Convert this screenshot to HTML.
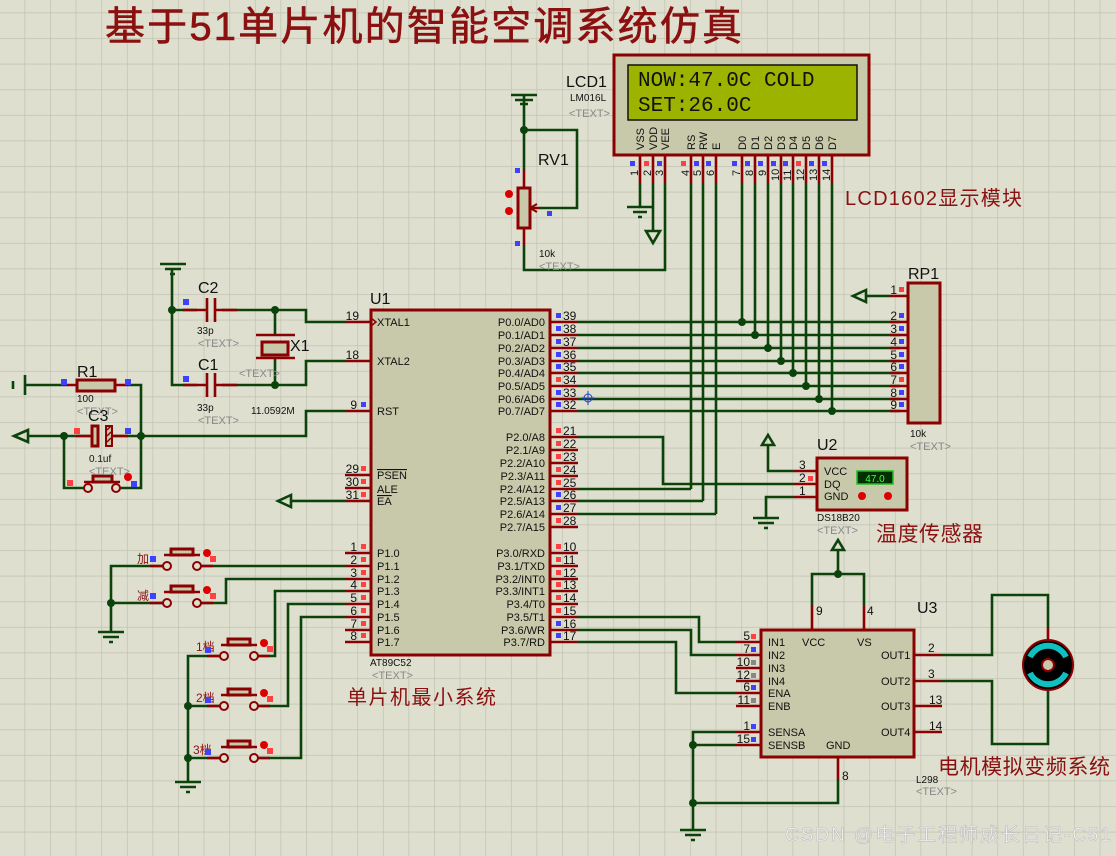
<!DOCTYPE html>
<html><head><meta charset="utf-8"><style>
html,body{margin:0;padding:0;background:#dfdfd0}
svg{display:block}
text{font-family:"Liberation Sans","Noto Sans CJK SC",sans-serif}
text.mono{font-family:"Liberation Mono","DejaVu Sans Mono",monospace}
.w{stroke:#0b430b;stroke-width:2.6;fill:none}
.p{stroke:#8b0000;stroke-width:2.6;fill:none}
.b{fill:#c8c8aa;stroke:#8b0000;stroke-width:3}
.t{font-size:11px;fill:#111}
.n{font-size:12px;fill:#111}
.g{font-size:11px;fill:#888}
.lab{font-size:16px;fill:#111}
.cn{fill:#8b1010;font-family:"Liberation Sans","Noto Sans CJK SC",sans-serif}
</style></head><body>
<svg width="1116" height="856" viewBox="0 0 1116 856" xmlns="http://www.w3.org/2000/svg">
<defs>
<pattern id="gr" x="24.5" y="12.5" width="25.6" height="25.6" patternUnits="userSpaceOnUse">
<path d="M0 0H25.6M0 0V25.6" stroke="#c2c2b2" stroke-width="1.4" fill="none"/>
</pattern>
</defs>
<rect width="1116" height="856" fill="#dfdfd0"/>
<rect width="1116" height="856" fill="url(#gr)"/>

<!-- title -->
<text x="105" y="40" font-size="40" class="cn" textLength="637" stroke="#8b1010" stroke-width="0.6">基于51单片机的智能空调系统仿真</text>

<!-- LCD -->
<rect x="614" y="55" width="255" height="100" class="b"/>
<rect x="628" y="65" width="229" height="55" fill="#9cb400" stroke="#111" stroke-width="1.5"/>
<text x="638" y="86" class="mono" font-size="21" fill="#111">NOW:47.0C COLD</text>
<text x="638" y="111" class="mono" font-size="21" fill="#111">SET:26.0C</text>
<text x="566" y="87" class="lab">LCD1</text>
<text x="570" y="101" font-size="10" fill="#111">LM016L</text>
<text x="569" y="117" class="g">&lt;TEXT&gt;</text>
<g font-size="11" fill="#111">
<text transform="translate(644,150) rotate(-90)">VSS</text>
<text transform="translate(657,150) rotate(-90)">VDD</text>
<text transform="translate(669,150) rotate(-90)">VEE</text>
<text transform="translate(695,150) rotate(-90)">RS</text>
<text transform="translate(707,150) rotate(-90)">RW</text>
<text transform="translate(720,150) rotate(-90)">E</text>
<text transform="translate(746,150) rotate(-90)">D0</text>
<text transform="translate(759,150) rotate(-90)">D1</text>
<text transform="translate(772,150) rotate(-90)">D2</text>
<text transform="translate(785,150) rotate(-90)">D3</text>
<text transform="translate(797,150) rotate(-90)">D4</text>
<text transform="translate(810,150) rotate(-90)">D5</text>
<text transform="translate(823,150) rotate(-90)">D6</text>
<text transform="translate(836,150) rotate(-90)">D7</text>
<text transform="translate(638,176) rotate(-90)">1</text>
<text transform="translate(651,176) rotate(-90)">2</text>
<text transform="translate(663,176) rotate(-90)">3</text>
<text transform="translate(689,176) rotate(-90)">4</text>
<text transform="translate(701,176) rotate(-90)">5</text>
<text transform="translate(714,176) rotate(-90)">6</text>
<text transform="translate(740,176) rotate(-90)">7</text>
<text transform="translate(753,176) rotate(-90)">8</text>
<text transform="translate(766,176) rotate(-90)">9</text>
<text transform="translate(779,181) rotate(-90)">10</text>
<text transform="translate(791,181) rotate(-90)">11</text>
<text transform="translate(804,181) rotate(-90)">12</text>
<text transform="translate(817,181) rotate(-90)">13</text>
<text transform="translate(830,181) rotate(-90)">14</text>
</g>
<path class="p" d="M640 156V183M653 156V183M665 156V183M691 156V183M703 156V183M716 156V183M742 156V183M755 156V183M768 156V183M781 156V183M793 156V183M806 156V183M819 156V183M832 156V183"/>
<g fill="#4040ff"><rect x="630" y="161" width="5" height="5"/><rect x="657" y="161" width="5" height="5"/><rect x="694" y="161" width="5" height="5"/><rect x="706" y="161" width="5" height="5"/><rect x="732" y="161" width="5" height="5"/><rect x="745" y="161" width="5" height="5"/><rect x="758" y="161" width="5" height="5"/><rect x="771" y="161" width="5" height="5"/><rect x="783" y="161" width="5" height="5"/><rect x="809" y="161" width="5" height="5"/><rect x="822" y="161" width="5" height="5"/></g>
<g fill="#ff4040"><rect x="644" y="161" width="5" height="5"/><rect x="681" y="161" width="5" height="5"/><rect x="796" y="161" width="5" height="5"/></g>
<text x="845" y="205" font-size="20" class="cn" textLength="177">LCD1602显示模块</text>

<!-- LCD wiring -->
<path class="w" d="M640 183V207M653 183V232M665 183V270H524V245"/>
<path class="w" d="M627 207H653M633 212H647M638 217H642" stroke-width="2"/>
<path class="w" d="M646 231H660L653 243Z"/>
<path class="w" d="M691 183V489M703 183V501M716 183V514"/>
<path class="w" d="M742 183V322M755 183V335M768 183V348M781 183V361M793 183V373M806 183V386M819 183V399M832 183V411"/>
<g fill="#0b430b"><circle cx="742" cy="322" r="4"/><circle cx="755" cy="335" r="4"/><circle cx="768" cy="348" r="4"/><circle cx="781" cy="361" r="4"/><circle cx="793" cy="373" r="4"/><circle cx="806" cy="386" r="4"/><circle cx="819" cy="399" r="4"/><circle cx="832" cy="411" r="4"/></g>

<!-- RV1 -->
<path class="w" d="M511 95H537M515 100H533M520 104H528" stroke-width="2"/>
<path class="w" d="M524 95V130H577V208H540"/>
<circle cx="524" cy="130" r="4" fill="#0b430b"/>
<path class="w" d="M524 130V170"/>
<path class="p" d="M524 170V188M524 228V245M540 208H532"/>
<path d="M537 204L530 208L537 212" fill="none" stroke="#8b0000" stroke-width="2"/>
<rect x="518" y="188" width="12" height="40" class="b" stroke-width="2"/>
<circle cx="509" cy="194" r="4" fill="#d00"/><circle cx="509" cy="211" r="4" fill="#d00"/>
<rect x="515" y="168" width="5" height="5" fill="#4040ff"/><rect x="547" y="211" width="5" height="5" fill="#4040ff"/><rect x="515" y="241" width="5" height="5" fill="#4040ff"/>
<text x="538" y="165" class="lab">RV1</text>
<text x="539" y="257" font-size="10" fill="#111">10k</text>
<text x="539" y="270" class="g">&lt;TEXT&gt;</text>

<!-- U1 -->
<rect x="371" y="310" width="179" height="345" class="b"/>
<text x="370" y="304" class="lab">U1</text>
<text x="370" y="666" font-size="10" fill="#111">AT89C52</text>
<text x="372" y="679" class="g">&lt;TEXT&gt;</text>
<path class="p" d="M345 322H371M345 361H371M345 411H371M345 475H371M345 488H371M345 501H371M345 553H371M345 566H371M345 579H371M345 591H371M345 604H371M345 617H371M345 630H371M345 642H371"/>
<path class="p" d="M550 322H578M550 335H578M550 348H578M550 361H578M550 373H578M550 386H578M550 399H578M550 411H578M550 437H578M550 450H578M550 463H578M550 476H578M550 489H578M550 501H578M550 514H578M550 527H578M550 553H578M550 566H578M550 579H578M550 591H578M550 604H578M550 617H578M550 630H578M550 642H578"/>
<path d="M371 318L376 322L371 326" fill="none" stroke="#8b0000" stroke-width="1.5"/>
<g class="t">
<text x="377" y="326">XTAL1</text><text x="377" y="365">XTAL2</text><text x="377" y="415">RST</text>
<text x="377" y="479" text-decoration="overline">PSEN</text><text x="377" y="493">ALE</text><text x="377" y="505" text-decoration="overline">EA</text>
<text x="377" y="557">P1.0</text><text x="377" y="570">P1.1</text><text x="377" y="583">P1.2</text><text x="377" y="595">P1.3</text><text x="377" y="608">P1.4</text><text x="377" y="621">P1.5</text><text x="377" y="634">P1.6</text><text x="377" y="646">P1.7</text>
</g>
<g class="t" text-anchor="end">
<text x="545" y="326">P0.0/AD0</text><text x="545" y="339">P0.1/AD1</text><text x="545" y="352">P0.2/AD2</text><text x="545" y="365">P0.3/AD3</text><text x="545" y="377">P0.4/AD4</text><text x="545" y="390">P0.5/AD5</text><text x="545" y="403">P0.6/AD6</text><text x="545" y="415">P0.7/AD7</text>
<text x="545" y="441">P2.0/A8</text><text x="545" y="454">P2.1/A9</text><text x="545" y="467">P2.2/A10</text><text x="545" y="480">P2.3/A11</text><text x="545" y="493">P2.4/A12</text><text x="545" y="505">P2.5/A13</text><text x="545" y="518">P2.6/A14</text><text x="545" y="531">P2.7/A15</text>
<text x="545" y="557">P3.0/RXD</text><text x="545" y="570">P3.1/TXD</text><text x="545" y="583">P3.2/INT0</text><text x="545" y="595">P3.3/INT1</text><text x="545" y="608">P3.4/T0</text><text x="545" y="621">P3.5/T1</text><text x="545" y="634">P3.6/WR</text><text x="545" y="646">P3.7/RD</text>
</g>
<g class="n" text-anchor="end">
<text x="359" y="320">19</text><text x="359" y="359">18</text><text x="357" y="409">9</text><text x="359" y="473">29</text><text x="359" y="486">30</text><text x="359" y="499">31</text>
<text x="357" y="551">1</text><text x="357" y="564">2</text><text x="357" y="577">3</text><text x="357" y="589">4</text><text x="357" y="602">5</text><text x="357" y="615">6</text><text x="357" y="628">7</text><text x="357" y="640">8</text>
</g>
<g class="n">
<text x="563" y="320">39</text><text x="563" y="333">38</text><text x="563" y="346">37</text><text x="563" y="359">36</text><text x="563" y="371">35</text><text x="563" y="384">34</text><text x="563" y="397">33</text><text x="563" y="409">32</text>
<text x="563" y="435">21</text><text x="563" y="448">22</text><text x="563" y="461">23</text><text x="563" y="474">24</text><text x="563" y="487">25</text><text x="563" y="499">26</text><text x="563" y="512">27</text><text x="563" y="525">28</text>
<text x="563" y="551">10</text><text x="563" y="564">11</text><text x="563" y="577">12</text><text x="563" y="589">13</text><text x="563" y="602">14</text><text x="563" y="615">15</text><text x="563" y="628">16</text><text x="563" y="640">17</text>
</g>
<g fill="#4040ff"><rect x="556" y="313" width="5" height="5"/><rect x="556" y="326" width="5" height="5"/><rect x="556" y="339" width="5" height="5"/><rect x="556" y="352" width="5" height="5"/><rect x="556" y="364" width="5" height="5"/><rect x="556" y="390" width="5" height="5"/><rect x="556" y="402" width="5" height="5"/><rect x="556" y="492" width="5" height="5"/><rect x="556" y="505" width="5" height="5"/><rect x="556" y="621" width="5" height="5"/><rect x="556" y="633" width="5" height="5"/><rect x="361" y="402" width="5" height="5"/></g>
<g fill="#ff4040"><rect x="556" y="377" width="5" height="5"/><rect x="556" y="428" width="5" height="5"/><rect x="556" y="441" width="5" height="5"/><rect x="556" y="454" width="5" height="5"/><rect x="556" y="467" width="5" height="5"/><rect x="556" y="480" width="5" height="5"/><rect x="556" y="518" width="5" height="5"/><rect x="556" y="544" width="5" height="5"/><rect x="556" y="557" width="5" height="5"/><rect x="556" y="570" width="5" height="5"/><rect x="556" y="582" width="5" height="5"/><rect x="556" y="595" width="5" height="5"/><rect x="556" y="608" width="5" height="5"/>
<rect x="361" y="466" width="5" height="5"/><rect x="361" y="479" width="5" height="5"/><rect x="361" y="492" width="5" height="5"/>
<rect x="361" y="544" width="5" height="5"/><rect x="361" y="557" width="5" height="5"/><rect x="361" y="570" width="5" height="5"/><rect x="361" y="582" width="5" height="5"/><rect x="361" y="595" width="5" height="5"/><rect x="361" y="608" width="5" height="5"/><rect x="361" y="621" width="5" height="5"/><rect x="361" y="633" width="5" height="5"/></g>
<text x="347" y="704" font-size="20" class="cn" textLength="149">单片机最小系统</text>

<!-- P0 to RP1 -->
<path class="w" d="M578 322H900M578 335H900M578 348H900M578 361H900M578 373H900M578 386H900M578 399H900M578 411H900"/>
<path d="M581 398H595M588 391V405" stroke="#2040c0" stroke-width="1"/><circle cx="588" cy="398" r="4" fill="none" stroke="#2040c0" stroke-width="1"/>
<!-- RP1 -->
<rect x="908" y="283" width="32" height="140" class="b"/>
<path class="p" d="M890 296H908M890 322H908M890 335H908M890 348H908M890 361H908M890 373H908M890 386H908M890 399H908M890 411H908"/>
<path class="w" d="M865 296H890"/><path class="w" d="M866 290L853 296L866 302Z"/>
<g class="n" text-anchor="end"><text x="897" y="294">1</text><text x="897" y="320">2</text><text x="897" y="333">3</text><text x="897" y="346">4</text><text x="897" y="359">5</text><text x="897" y="371">6</text><text x="897" y="384">7</text><text x="897" y="397">8</text><text x="897" y="409">9</text></g>
<g fill="#4040ff"><rect x="899" y="313" width="5" height="5"/><rect x="899" y="326" width="5" height="5"/><rect x="899" y="339" width="5" height="5"/><rect x="899" y="352" width="5" height="5"/><rect x="899" y="364" width="5" height="5"/><rect x="899" y="390" width="5" height="5"/><rect x="899" y="402" width="5" height="5"/></g>
<g fill="#ff4040"><rect x="899" y="287" width="5" height="5"/><rect x="899" y="377" width="5" height="5"/></g>
<text x="908" y="279" class="lab">RP1</text>
<text x="910" y="437" font-size="10" fill="#111">10k</text>
<text x="910" y="450" class="g">&lt;TEXT&gt;</text>

<!-- P2 wiring -->
<path class="w" d="M578 437H663V484H793M578 489H691M578 501H703M578 514H716"/>

<!-- U2 -->
<rect x="817" y="458" width="90" height="52" class="b"/>
<rect x="857" y="471" width="36" height="13" fill="#003000" stroke="#20c020" stroke-width="1.5"/>
<text x="875" y="482" font-size="10" fill="#40ff40" text-anchor="middle">47.0</text>
<circle cx="862" cy="496" r="4" fill="#d00"/><circle cx="888" cy="496" r="4" fill="#d00"/>
<g class="t"><text x="824" y="475">VCC</text><text x="824" y="488">DQ</text><text x="824" y="500">GND</text></g>
<path class="p" d="M793 471H817M793 484H817M793 497H817"/>
<g class="n"><text x="799" y="469">3</text><text x="799" y="482">2</text><text x="799" y="495">1</text></g>
<rect x="808" y="476" width="5" height="5" fill="#ff4040"/>
<path class="w" d="M793 471H768V445M793 497H766V518"/>
<path class="w" d="M762 445H774L768 435Z"/>
<path class="w" d="M753 518H779M758 523H774M764 528H768" stroke-width="2"/>
<text x="817" y="450" class="lab">U2</text>
<text x="817" y="521" font-size="10" fill="#111">DS18B20</text>
<text x="817" y="534" class="g">&lt;TEXT&gt;</text>
<text x="876" y="541" font-size="21" class="cn" textLength="107">温度传感器</text>

<!-- U3 -->
<rect x="761" y="630" width="153" height="127" class="b"/>
<path class="p" d="M812 605V630M864 605V630M736 642H761M736 655H761M736 668H761M736 681H761M736 693H761M736 706H761M736 732H761M736 745H761M914 655H942M914 681H942M914 706H942M914 732H942M838 757V780"/>
<path class="w" d="M838 550V574M812 605V574H864V605"/>
<circle cx="838" cy="574" r="4" fill="#0b430b"/>
<path class="w" d="M832 550H844L838 540Z"/>
<g class="t"><text x="768" y="646">IN1</text><text x="768" y="659">IN2</text><text x="768" y="672">IN3</text><text x="768" y="685">IN4</text><text x="768" y="697">ENA</text><text x="768" y="710">ENB</text><text x="768" y="736">SENSA</text><text x="768" y="749">SENSB</text>
<text x="802" y="646">VCC</text><text x="857" y="646">VS</text><text x="826" y="749">GND</text>
<text x="881" y="659">OUT1</text><text x="881" y="685">OUT2</text><text x="881" y="710">OUT3</text><text x="881" y="736">OUT4</text></g>
<g class="n"><text x="816" y="615">9</text><text x="867" y="615">4</text><text x="842" y="780">8</text>
<text x="928" y="652">2</text><text x="928" y="678">3</text><text x="929" y="704">13</text><text x="929" y="730">14</text></g>
<g class="n" text-anchor="end"><text x="750" y="640">5</text><text x="750" y="653">7</text><text x="750" y="666">10</text><text x="750" y="679">12</text><text x="750" y="691">6</text><text x="750" y="704">11</text><text x="750" y="730">1</text><text x="750" y="743">15</text></g>
<rect x="751" y="634" width="5" height="5" fill="#ff4040"/>
<g fill="#4040ff"><rect x="751" y="647" width="5" height="5"/><rect x="751" y="685" width="5" height="5"/><rect x="751" y="724" width="5" height="5"/><rect x="751" y="737" width="5" height="5"/></g>
<g fill="#888"><rect x="751" y="660" width="5" height="5"/><rect x="751" y="673" width="5" height="5"/><rect x="751" y="698" width="5" height="5"/></g>
<text x="917" y="613" class="lab">U3</text>
<text x="916" y="783" font-size="10" fill="#111">L298</text>
<text x="916" y="795" class="g">&lt;TEXT&gt;</text>
<path class="w" d="M578 617H699V642H736M578 630H691V655H736M578 642H676V693H736"/>
<path class="w" d="M736 732H693V830M736 745H693M693 803H838V780"/>
<circle cx="693" cy="745" r="4" fill="#0b430b"/><circle cx="693" cy="803" r="4" fill="#0b430b"/>
<path class="w" d="M680 830H706M685 835H701M691 840H695" stroke-width="2"/>
<!-- motor -->
<path class="w" d="M942 655H992V595H1048V628M942 681H992V744H1048V692"/>
<path class="p" d="M1048 628V640M1048 690V692"/>
<circle cx="1048" cy="665" r="25" fill="#000" stroke="#8b0000" stroke-width="2"/>
<path d="M1030 657A20 20 0 0 1 1066 657" stroke="#10c0c0" stroke-width="6" fill="none"/>
<path d="M1030 673A20 20 0 0 0 1066 673" stroke="#10c0c0" stroke-width="6" fill="none"/>
<circle cx="1048" cy="665" r="6" fill="#c8c8aa" stroke="#8b0000" stroke-width="2"/>
<text x="938" y="774" font-size="21" class="cn" textLength="172">电机模拟变频系统</text>

<!-- crystal -->
<path class="w" d="M160 264H186M165 269H181M170 274H175" stroke-width="2"/>
<path class="w" d="M172 268V385H197M172 310H197M222 310H306V322H345M222 385H306V361H345M275 310V334M275 358V385"/>
<circle cx="172" cy="310" r="4" fill="#0b430b"/><circle cx="275" cy="310" r="4" fill="#0b430b"/><circle cx="275" cy="385" r="4" fill="#0b430b"/>
<path class="p" d="M183 310H207M215 310H237M183 385H207M215 385H237M207 298V322M215 298V322M207 373V397M215 373V397M256 335H295M256 358H295"/>
<rect x="262" y="342" width="26" height="13" class="b" stroke-width="2"/>
<rect x="183" y="299" width="6" height="6" fill="#4040ff"/><rect x="183" y="376" width="6" height="6" fill="#4040ff"/>
<text x="198" y="293" class="lab">C2</text><text x="197" y="334" font-size="10" fill="#111">33p</text><text x="198" y="347" class="g">&lt;TEXT&gt;</text>
<text x="198" y="370" class="lab">C1</text><text x="197" y="411" font-size="10" fill="#111">33p</text><text x="198" y="424" class="g">&lt;TEXT&gt;</text>
<text x="290" y="351" class="lab">X1</text><text x="239" y="377" class="g">&lt;TEXT&gt;</text>
<text x="251" y="414" font-size="10" fill="#111">11.0592M</text>

<!-- reset -->
<path class="w" d="M25 375V395M13 381V389M25 385H63M128 385H141V436M27 436H90M110 436H306V411H345M64 436V488H83M121 488H141V436"/>
<path class="w" d="M28 430L14 436L28 442Z"/>
<circle cx="64" cy="436" r="4" fill="#0b430b"/><circle cx="141" cy="436" r="4" fill="#0b430b"/>
<path class="p" d="M63 385H77M115 385H128"/>
<rect x="77" y="380" width="38" height="11" class="b" stroke-width="2"/>
<path class="p" d="M76 436H92M110 436H128"/>
<rect x="92" y="426" width="6" height="20" class="b" stroke-width="2"/><rect x="106" y="426" width="6" height="20" fill="#c8c8aa" stroke="#8b0000" stroke-width="2"/>
<path d="M107 430L111 426M107 436L111 432M107 442L111 438" stroke="#8b0000" stroke-width="1.5"/>
<path class="p" d="M83 488H84M117 488H121M84 482H120"/>
<rect x="93" y="476" width="19" height="6" class="b" stroke-width="2"/>
<circle cx="88" cy="488" r="4" fill="#dfdfd0" stroke="#8b0000" stroke-width="2"/><circle cx="116" cy="488" r="4" fill="#dfdfd0" stroke="#8b0000" stroke-width="2"/>
<circle cx="128" cy="477" r="4" fill="#d00"/>
<rect x="61" y="379" width="6" height="6" fill="#4040ff"/><rect x="125" y="379" width="6" height="6" fill="#4040ff"/>
<rect x="74" y="428" width="6" height="6" fill="#ff4040"/><rect x="125" y="428" width="6" height="6" fill="#4040ff"/>
<rect x="67" y="480" width="6" height="6" fill="#ff4040"/><rect x="131" y="481" width="6" height="6" fill="#4040ff"/>
<text x="77" y="377" class="lab">R1</text><text x="77" y="402" font-size="10" fill="#111">100</text><text x="77" y="415" class="g">&lt;TEXT&gt;</text>
<text x="88" y="421" class="lab">C3</text><text x="89" y="462" font-size="10" fill="#111">0.1uf</text><text x="89" y="475" class="g">&lt;TEXT&gt;</text>

<!-- EA -->
<path class="w" d="M345 501H290"/><path class="w" d="M291 495L278 501L291 507Z"/>

<!-- buttons -->
<path class="w" d="M197 566H345M197 603H226V579H345M254 656H275V591H345M254 706H288V604H345M254 758H301V617H345"/>
<path class="w" d="M163 566H111V632M163 603H111M220 656H188V782M220 706H188M220 758H188"/>
<circle cx="111" cy="603" r="4" fill="#0b430b"/><circle cx="188" cy="706" r="4" fill="#0b430b"/><circle cx="188" cy="758" r="4" fill="#0b430b"/>
<path class="w" d="M98 632H124M103 637H119M109 642H113M175 782H201M180 787H196M186 792H190" stroke-width="2"/>
<g id="btn">
<path class="p" d="M150 566H163M201 566H213M164 555H200"/>
<rect x="171" y="549" width="22" height="6" class="b" stroke-width="2"/>
<circle cx="167" cy="566" r="4" fill="#dfdfd0" stroke="#8b0000" stroke-width="2"/><circle cx="197" cy="566" r="4" fill="#dfdfd0" stroke="#8b0000" stroke-width="2"/>
<circle cx="207" cy="553" r="4" fill="#d00"/><rect x="210" y="556" width="6" height="6" fill="#ff4040"/>
</g>
<use href="#btn" transform="translate(0,37)"/>
<use href="#btn" transform="translate(57,90)"/>
<use href="#btn" transform="translate(57,140)"/>
<use href="#btn" transform="translate(57,192)"/>
<g font-size="12" class="cn"><text x="137" y="563">加</text><text x="137" y="600">减</text><text x="196" y="651">1档</text><text x="196" y="702">2档</text><text x="193" y="754">3档</text></g>
<g fill="#4040ff"><rect x="150" y="556" width="6" height="6"/><rect x="150" y="593" width="6" height="6"/><rect x="205" y="647" width="6" height="6"/><rect x="205" y="697" width="6" height="6"/><rect x="205" y="749" width="6" height="6"/></g>

<!-- watermark -->
<text x="785" y="841" font-size="19" fill="#f4f4f4" stroke="#bbb" stroke-width="0.6" textLength="326">CSDN @电子工程师成长日记-C51</text>
</svg>
</body></html>
